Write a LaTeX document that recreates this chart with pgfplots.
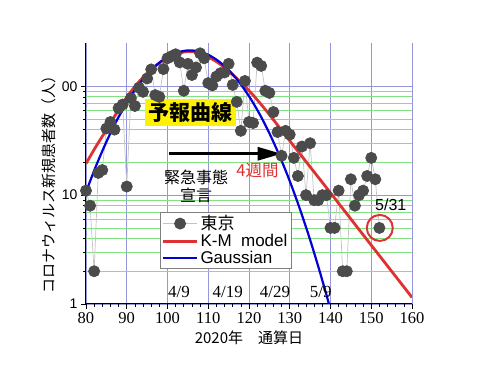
\documentclass[border=0pt]{standalone}
\usepackage{fontspec}
\setmainfont{Liberation Sans}
\newfontfamily\jp{Noto Sans CJK JP}
\newfontfamily\tnr{Liberation Serif}
\usepackage{pgfplots}
\pgfplotsset{compat=1.18}
\usetikzlibrary{arrows.meta}

\definecolor{gridblue}{RGB}{150,150,220}
\definecolor{gridgreen}{RGB}{130,225,130}
\definecolor{dotgray}{RGB}{75,75,75}
\definecolor{linegray}{RGB}{195,195,195}
\definecolor{kmred}{RGB}{222,50,50}
\definecolor{gblue}{RGB}{0,0,215}

\begin{document}
\begin{tikzpicture}
\path[use as bounding box] (-86pt,-63pt) rectangle (394pt,304pt);
\begin{axis}[
  at={(0pt,0pt)}, anchor=south west,
  scale only axis, width=326pt, height=261pt,
  xmin=80, xmax=160, ymin=1, ymax=250,
  ymode=log,
  axis x line=bottom, axis y line=left,
  axis line style={black, line width=1pt, -},
  xtick={80,90,...,160}, minor x tick num=4,
  ytick={1,10,100}, yticklabels={1,10,\phantom{1}00},
  xmajorgrids=true, ymajorgrids=true, yminorgrids=true,
  major grid style={gridblue, line width=0.7pt},
  minor grid style={gridgreen, line width=0.8pt},
  tick align=outside, major tick length=5pt, minor tick length=3pt,
  tick style={black, line width=0.6pt},
  /pgf/number format/assume math mode=true,
  xticklabel style={font=\tnr\fontsize{16.5}{18}\selectfont},
  yticklabel style={font=\fontsize{14}{16}\selectfont},
  xlabel={\jp 2020年　通算日},
  ylabel={\jp コロナウィルス新規患者数（人）},
  every axis x label/.style={at={(axis description cs:0.5,-0.13)}, anchor=center, font=\jp\fontsize{15}{17}\selectfont},
  every axis y label/.style={at={(axis description cs:-0.1135,0.473)}, rotate=90, anchor=center, font=\jp\fontsize{15}{17}\selectfont},
  legend style={at={(0.227,0.3525)}, anchor=north west, draw=gray, fill=white,
    font=\fontsize{17}{19.5}\selectfont, inner sep=1.5pt, row sep=-1pt, cells={anchor=west}},
  legend image code/.code={\draw[mark repeat=2,mark phase=2] plot coordinates {(0pt,0pt) (17pt,0pt) (34pt,0pt)};},
  clip=true,
]
\addplot[color=linegray, line width=0.7pt, mark=*, mark size=5.6pt, mark options={draw=dotgray, fill=dotgray}] coordinates {
(80,11) (81,8) (82,2) (83,16) (84,17) (85,41) (86,47) (87,40) (88,63) (89,68)
(90,12) (91,78) (92,66) (93,97) (94,89) (95,118) (96,143) (97,83) (98,80) (99,144)
(100,181) (101,189) (102,197) (103,166) (104,91) (105,161) (106,127) (107,149) (108,201) (109,181)
(110,107) (111,102) (112,123) (113,132) (114,134) (115,161) (116,103) (117,72) (118,39) (119,112)
(120,47) (121,46) (122,165) (123,154) (124,91) (125,87) (126,58) (127,38) (128,23) (129,39)
(130,36) (131,22) (132,15) (133,28) (134,10) (135,30) (136,9) (137,9) (138,10) (139,10)
(140,5) (141,5) (142,11) (143,2) (144,2) (145,14) (146,8) (147,10) (148,11) (149,15)
(150,22) (151,14) (152,5)
};
\addplot[kmred, line width=2.8pt, smooth] coordinates {
(80,19.5) (82.5,28.2) (85,39.8) (87.5,56.9) (90,79.4) (92.5,104.7) (95,131.8) (97.5,158.5)
(100,182) (102.5,199.5) (105,209) (107.5,204) (110,186) (112.5,164) (115,138) (117.5,113.5)
(120,91.2) (122.5,71.6) (125,55) (127.5,41.7) (130,31.6) (135,18.2) (140,10.5) (145,6.03)
(150,3.47) (155,2.0) (160,1.15)
};
\addplot[gblue, line width=2.2pt, smooth] coordinates {
(80,10.70) (82.5,18.71) (85,30.87) (87.5,48.08) (90,70.71) (92.5,98.2) (95,128.7) (97.5,159.2)
(100,186.0) (102.5,205.1) (105,213.6) (107.5,209.9) (110,194.8) (112.5,170.6) (115,141.1)
(117.5,110.2) (120,81.2) (122.5,56.5) (125,37.1) (127.5,23.0) (130,13.48) (132.5,7.45)
(135,3.89) (137.5,1.91) (140,0.89) (142.5,0.39)
};
\legend{{\jp 東京}, K-M\ \ model, Gaussian}

\node[fill=yellow, inner sep=3.5pt, font=\jp\bfseries\fontsize{21}{23}\selectfont] at (axis cs:105.6,57) {予報曲線};
\draw[black, line width=3pt, -{Triangle[length=24pt, width=13pt]}] (axis cs:100.4,24) -- (axis cs:128,24);
\node[font=\jp\fontsize{16}{18}\selectfont, align=center] at (axis cs:107,12.1) {緊急事態\\宣言};
\node[kmred, font=\jp\fontsize{16.5}{18}\selectfont] at (axis cs:122.1,16.8) {4週間};
\node[font=\fontsize{16}{18}\selectfont] at (axis cs:154.8,8.2) {5/31};
\draw[kmred, line width=2pt] (axis cs:152.1,5) circle[radius=13pt];
\node[font=\tnr\fontsize{17}{18}\selectfont] at (axis cs:102.8,1.3) {4/9};
\node[font=\tnr\fontsize{17}{18}\selectfont] at (axis cs:114.8,1.3) {4/19};
\node[font=\tnr\fontsize{17}{18}\selectfont] at (axis cs:126.4,1.3) {4/29};
\node[font=\tnr\fontsize{17}{18}\selectfont] at (axis cs:137.6,1.3) {5/9};
\end{axis}
\end{tikzpicture}
\end{document}
